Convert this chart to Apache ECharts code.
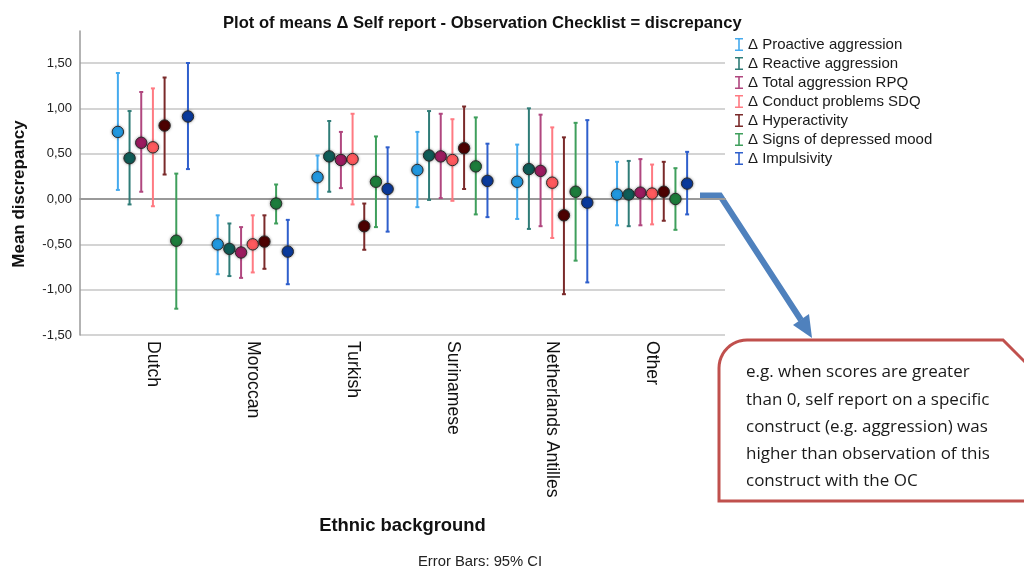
<!DOCTYPE html>
<html>
<head>
<meta charset="utf-8">
<script src="https://cdn.jsdelivr.net/npm/echarts@6/dist/echarts.min.js"></script>
<style>
  html, body { margin: 0; padding: 0; background: #fff; }
  #chart { width: 1024px; height: 569px; }
</style>
</head>
<body>
<div id="chart"></div>
<script>
// categories on the x axis
var categories = ['Dutch', 'Moroccan', 'Turkish', 'Surinamese', 'Netherlands Antilles', 'Other'];
// the seven measures (legend order)
var measures = ['Δ Proactive aggression', 'Δ Reactive aggression', 'Δ Total aggression RPQ',
    'Δ Conduct problems SDQ', 'Δ Hyperactivity', 'Δ Signs of depressed mood', 'Δ Impulsivity'];
// y tick labels, -1.5 .. 1.5 step 0.5
var yTicks = ['-1,50', '-1,00', '-0,50', '0,00', '0,50', '1,00', '1,50'];

// mean per measure (rows) and category (columns)
var means = [
    [0.74, -0.50, 0.24, 0.32, 0.19, 0.05],
    [0.45, -0.55, 0.47, 0.48, 0.33, 0.05],
    [0.62, -0.59, 0.43, 0.47, 0.31, 0.07],
    [0.57, -0.50, 0.44, 0.43, 0.18, 0.06],
    [0.81, -0.47, -0.30, 0.56, -0.18, 0.08],
    [-0.46, -0.05, 0.19, 0.36, 0.08, 0.00],
    [0.91, -0.58, 0.11, 0.20, -0.04, 0.17]
];
// 95% CI lower bound
var lower = [
    [0.10, -0.83, 0.00, -0.09, -0.22, -0.29],
    [-0.06, -0.85, 0.08, -0.01, -0.33, -0.30],
    [0.08, -0.87, 0.12, 0.01, -0.30, -0.29],
    [-0.08, -0.81, -0.06, -0.02, -0.43, -0.28],
    [0.27, -0.77, -0.56, 0.11, -1.05, -0.24],
    [-1.21, -0.27, -0.31, -0.17, -0.68, -0.34],
    [0.33, -0.94, -0.36, -0.20, -0.92, -0.17]
];
// 95% CI upper bound
var upper = [
    [1.39, -0.18, 0.48, 0.74, 0.60, 0.41],
    [0.97, -0.27, 0.86, 0.97, 1.00, 0.42],
    [1.18, -0.31, 0.74, 0.94, 0.93, 0.44],
    [1.22, -0.18, 0.94, 0.88, 0.79, 0.38],
    [1.34, -0.18, -0.05, 1.02, 0.68, 0.41],
    [0.28, 0.16, 0.69, 0.90, 0.84, 0.34],
    [1.50, -0.23, 0.57, 0.61, 0.87, 0.52]
];

var calloutLines = [
    'e.g. when scores are greater',
    'than 0, self report on a specific',
    'construct (e.g. aggression) was',
    'higher than observation of this',
    'construct with the OC'
];

var barColors = ['#45aaee', '#2f7c77', '#b0477f', '#ff7a82', '#7a2a2a', '#3f9f5c', '#2f5fcc'];
var dotColors = ['#2198e0', '#0f5d58', '#9c1c60', '#ff5a5e', '#4d0202', '#1d7d3c', '#0a3a9c'];

var FONT = '"Liberation Sans", Arial, sans-serif';

// callout outline: rounded top-left corner, snipped top-right corner
function calloutPoints() {
    var pts = [[719, 501], [719, 368]];
    var r = 28, cx = 719 + r, cy = 340 + r;
    for (var k = 1; k < 12; k++) {
        var a = Math.PI + (Math.PI / 2) * k / 12;
        pts.push([cx + r * Math.cos(a), cy + r * Math.sin(a)]);
    }
    pts.push([747, 340], [1003, 340], [1045, 382], [1045, 501]);
    return pts;
}

function loadChart() {
    var myChart = echarts.init(document.getElementById('chart'));

    var series = [];
    measures.forEach(function (name, j) {
        var data = categories.map(function (c, i) {
            return [i, means[j][i], lower[j][i], upper[j][i]];
        });
        series.push({
            name: name,
            type: 'custom',
            xAxisIndex: 2,
            yAxisIndex: 2,
            itemStyle: { color: barColors[j] },
            encode: { x: 0, y: [1, 2, 3] },
            data: data,
            renderItem: function (params, api) {
                var bw = api.size([1, 0])[0];
                var mid = api.coord([api.value(0), api.value(1)]);
                var hi = api.coord([api.value(0), api.value(3)]);
                var lo = api.coord([api.value(0), api.value(2)]);
                var x = mid[0] + (j - 3) * bw * 0.117;
                var lineStyle = { stroke: barColors[j], lineWidth: 2 };
                return {
                    type: 'group',
                    children: [
                        { type: 'line', shape: { x1: x, y1: hi[1], x2: x, y2: lo[1] }, style: lineStyle },
                        { type: 'line', shape: { x1: x - 2, y1: hi[1], x2: x + 2, y2: hi[1] }, style: lineStyle },
                        { type: 'line', shape: { x1: x - 2, y1: lo[1], x2: x + 2, y2: lo[1] }, style: lineStyle },
                        {
                            type: 'circle',
                            shape: { cx: x, cy: mid[1], r: 5.7 },
                            style: {
                                fill: dotColors[j], stroke: '#2a2a2a', lineWidth: 1,
                                shadowBlur: 3, shadowColor: 'rgba(0,0,0,0.35)'
                            }
                        }
                    ]
                };
            }
        });
    });

    var option = {
        backgroundColor: '#FFFFFF',
        animation: false,
        textStyle: { fontFamily: FONT },
        title: {
            text: 'Plot of means Δ Self report - Observation Checklist = discrepancy',
            left: 218,
            top: 10,
            textStyle: { fontFamily: FONT, fontSize: 16.6, fontWeight: 'bold', color: '#111' }
        },
        legend: {
            orient: 'vertical',
            left: 730,
            top: 32,
            itemGap: 4,
            itemWidth: 8,
            itemHeight: 13,
            icon: 'path://M0,0H8V1.6H4.8V11.4H8V13H0V11.4H3.2V1.6H0Z',
            data: measures,
            textStyle: { fontFamily: FONT, fontSize: 15, color: '#1a1a1a' }
        },
        grid: [
            // gridlines and tick labels
            { left: 80, width: 645, top: 63, bottom: 234 },
            // left axis line, taller than the gridlines
            { left: 80, width: 645, top: 31, bottom: 234 },
            // data area
            { left: 103, width: 599, top: 63, bottom: 234 }
        ],
        xAxis: [
            {
                gridIndex: 0, type: 'value', min: 0, max: 1,
                axisLine: { show: true, lineStyle: { color: '#9a9a9a', width: 2 } },
                axisTick: { show: false }, axisLabel: { show: false }, splitLine: { show: false }
            },
            {
                gridIndex: 1, type: 'value', min: 0, max: 1, show: false
            },
            {
                gridIndex: 2, type: 'category', data: categories,
                axisLine: { show: false }, axisTick: { show: false },
                axisLabel: {
                    rotate: -90, margin: 6, fontSize: 17.6, color: '#111', fontFamily: FONT
                },
                name: 'Ethnic background',
                nameLocation: 'middle',
                nameGap: 182,
                nameTextStyle: { fontFamily: FONT, fontSize: 18.4, fontWeight: 'bold', color: '#111' }
            }
        ],
        yAxis: [
            {
                gridIndex: 0, type: 'value', min: -1.5, max: 1.5, interval: 0.5,
                axisLine: { show: false }, axisTick: { show: false },
                axisLabel: {
                    margin: 8, fontSize: 13, color: '#222', fontFamily: FONT,
                    formatter: function (v) { return yTicks[Math.round((v + 1.5) / 0.5)]; }
                },
                splitLine: { show: true, lineStyle: { color: '#c6c6c6', width: 1.5 } },
                name: 'Mean discrepancy',
                nameLocation: 'middle',
                nameRotate: 90,
                nameGap: 52,
                nameTextStyle: {
                    fontFamily: FONT, fontSize: 17, fontWeight: 'bold', color: '#111',
                    padding: [0, 0, 0, 10]
                }
            },
            {
                gridIndex: 1, type: 'value', min: 0, max: 1,
                axisLine: { show: true, lineStyle: { color: '#9a9a9a', width: 1.5 } },
                axisTick: { show: false }, axisLabel: { show: false }, splitLine: { show: false }
            },
            {
                gridIndex: 2, type: 'value', min: -1.5, max: 1.5, show: false
            }
        ],
        graphic: [
            {
                type: 'text', x: 418, y: 554,
                style: { text: 'Error Bars: 95% CI', font: '14.8px ' + FONT, fill: '#222' }
            },
            // arrow
            {
                type: 'polyline',
                shape: { points: [[700, 195.5], [720, 195.5], [801, 320]] },
                style: { stroke: '#4f81bd', lineWidth: 6, fill: null, lineJoin: 'miter' }
            },
            {
                type: 'polygon',
                shape: { points: [[809, 314], [793, 325], [812, 338]] },
                style: { fill: '#4f81bd' }
            },
            // callout box
            {
                type: 'polygon',
                shape: { points: calloutPoints() },
                style: { fill: '#fff', stroke: '#c0504d', lineWidth: 3 }
            },
            {
                type: 'text', x: 746, y: 359,
                style: {
                    text: calloutLines.join('\n'),
                    font: '17px "Open Sans", "Noto Sans", sans-serif',
                    lineHeight: 27.2,
                    fill: '#1a1a1a'
                }
            }
        ],
        series: series
    };

    myChart.setOption(option, true);
}
loadChart();
</script>
</body>
</html>
